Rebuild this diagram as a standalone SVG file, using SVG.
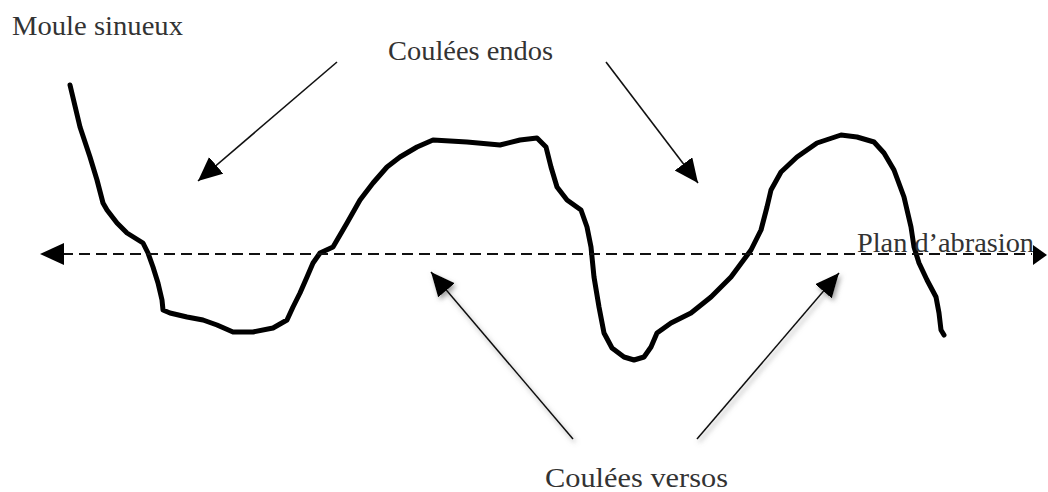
<svg xmlns="http://www.w3.org/2000/svg" width="1048" height="492" viewBox="0 0 1048 492">
<style>
.lbl{font-family:"Liberation Serif","Times New Roman",serif;font-size:28px;fill:#333;}
.arrow{stroke:#111;stroke-width:1.6;fill:none;}
.curve{stroke:#000;stroke-width:5;fill:none;stroke-linejoin:round;stroke-linecap:round;}
.plane{stroke:#111;stroke-width:2;stroke-dasharray:11 6;fill:none;}
</style>
<defs>
<marker id="ah" markerUnits="userSpaceOnUse" markerWidth="26" markerHeight="24" refX="24" refY="11" orient="auto">
<path d="M0,0 L24,11 L0,22 Z" fill="#000"/>
</marker>
<marker id="ah2" markerUnits="userSpaceOnUse" markerWidth="26" markerHeight="24" refX="24" refY="11" orient="auto-start-reverse">
<path d="M0,0 L24,11 L0,22 Z" fill="#000"/>
</marker>
<filter id="sh" x="-20%" y="-20%" width="140%" height="140%">
<feDropShadow dx="2" dy="3" stdDeviation="2.5" flood-color="#777" flood-opacity="0.7"/>
</filter>
</defs>
<rect width="1048" height="492" fill="#fff"/>
<g id="mould">
<path class="curve" d="M70,85 L80,127 L90,157 L97,180 L103,203 L107,210 L117,223 L127,233 L143,243 L148,253 L153,267 L158,283 L162,300 L163,310 L170,313 L187,317 L203,320 L217,325 L233,332 L253,332 L273,328 L287,320 L293,307 L300,293 L307,277 L313,263 L320,253 L333,247 L347,223 L360,200 L373,183 L387,167 L400,157 L417,147 L433,140 L467,142 L500,145 L520,140 L537,138 L546,147 L551,167 L557,187 L567,200 L581,210 L587,227 L591,247 L594,277 L599,307 L604,333 L612,348 L624,357 L634,360 L644,357 L651,347 L657,333 L671,323 L691,313 L711,297 L731,277 L751,250 L761,230 L767,207 L771,190 L781,172 L797,157 L817,143 L841,135 L857,137 L874,142 L884,153 L894,170 L904,197 L911,227 L914,247 L919,263 L927,280 L936,297 L939,313 L941,330 L944,335"/>
</g>
<g id="labels">
<text id="moule" class="lbl" x="12" y="35" textLength="171" lengthAdjust="spacingAndGlyphs">Moule sinueux</text>
<text id="endos" class="lbl" x="388" y="60" textLength="165" lengthAdjust="spacingAndGlyphs">Coulées endos</text>
<text id="plan" class="lbl" x="857" y="252" textLength="177" lengthAdjust="spacingAndGlyphs">Plan d’abrasion</text>
<text id="versos" class="lbl" x="545" y="487" textLength="183" lengthAdjust="spacingAndGlyphs">Coulées versos</text>
</g>
<g id="connectors">
<line class="plane" x1="62" y1="254" x2="1032" y2="254"/>
<path d="M40,254 L64,243 L64,265 Z" fill="#000"/>
<path d="M1047,255 L1033,245 L1033,265 Z" fill="#000"/>
<line class="arrow" x1="337" y1="62" x2="198" y2="181" marker-end="url(#ah)"/>
<line class="arrow" x1="606" y1="62" x2="698" y2="183" marker-end="url(#ah)"/>
<g filter="url(#sh)">
<line class="arrow" x1="573" y1="439" x2="431" y2="272" marker-end="url(#ah)"/>
<line class="arrow" x1="697" y1="439" x2="839" y2="273" marker-end="url(#ah)"/>
</g>
</g>
</svg>
